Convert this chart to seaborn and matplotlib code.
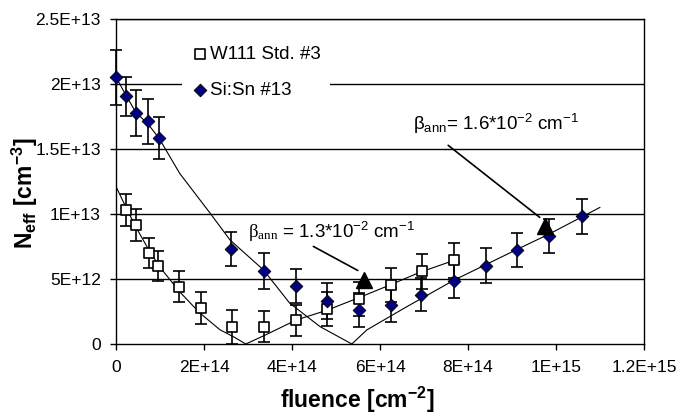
import numpy as np
import pandas as pd
import seaborn as sns
import matplotlib.pyplot as plt

# fluence in 1e15 cm^-2, Neff in 1e12 cm^-3
w111_x = [0.0227, 0.0455, 0.075, 0.096, 0.143, 0.193, 0.264, 0.336, 0.409, 0.48, 0.552, 0.625, 0.695, 0.769]
w111_y = [10.3, 9.15, 7.0, 6.0, 4.4, 2.75, 1.33, 1.33, 1.82, 2.67, 3.43, 4.56, 5.6, 6.45]
w111_err = [1.2, 1.2, 1.15, 1.15, 1.2, 1.25, 1.3, 1.2, 1.2, 1.3, 1.3, 1.3, 1.35, 1.35]

sisn_x = [0.0, 0.0227, 0.045, 0.073, 0.098, 0.261, 0.336, 0.408, 0.48, 0.552, 0.625, 0.694, 0.769, 0.841, 0.912, 0.985, 1.06]
sisn_y = [20.5, 19.05, 17.75, 17.1, 15.85, 7.3, 5.6, 4.44, 3.3, 2.6, 3.0, 3.8, 4.85, 6.0, 7.2, 8.33, 9.8]
sisn_err = [2.1, 1.5, 1.75, 1.7, 1.6, 1.3, 1.4, 1.3, 1.4, 1.3, 1.3, 1.3, 1.35, 1.35, 1.3, 1.3, 1.35]

# fit curves
fit1_x = [0, 0.0227, 0.045, 0.075, 0.10, 0.145, 0.19, 0.236, 0.27, 0.295, 0.34, 0.41, 0.48, 0.555, 0.62, 0.69, 0.77]
fit1_y = [12.1, 10.5, 9.0, 7.2, 5.9, 4.0, 2.4, 1.1, 0.5, 0.0, 0.7, 1.85, 2.6, 3.6, 4.5, 5.5, 6.45]
fit2_x = [0, 0.023, 0.045, 0.073, 0.098, 0.145, 0.214, 0.259, 0.335, 0.395, 0.464, 0.536, 0.57, 0.661, 0.769, 0.912, 0.985, 1.1]
fit2_y = [20.5, 19.1, 17.8, 16.9, 15.8, 13.1, 10.05, 8.0, 5.7, 3.13, 1.33, 0.0, 1.08, 2.87, 4.92, 7.28, 8.46, 10.5]

xticks = [0, 0.2, 0.4, 0.6, 0.8, 1.0, 1.2]
xtick_labels = ['0', '2E+14', '4E+14', '6E+14', '8E+14', '1E+15', '1.2E+15']
yticks = [0, 5, 10, 15, 20, 25]
ytick_labels = ['0', '5E+12', '1E+13', '1.5E+13', '2E+13', '2.5E+13']

sns.set_style('white', {'text.color': 'black', 'axes.labelcolor': 'black',
                        'xtick.color': 'black', 'ytick.color': 'black'})
plt.rcParams['font.family'] = ['Liberation Sans', 'DejaVu Sans']
plt.rcParams['mathtext.fontset'] = 'custom'
plt.rcParams['mathtext.rm'] = 'Liberation Sans'
plt.rcParams['mathtext.it'] = 'Liberation Sans:italic'
plt.rcParams['mathtext.bf'] = 'Liberation Sans:bold'
plt.rcParams['mathtext.sf'] = 'Liberation Serif'

fig = plt.figure(figsize=(6.8, 4.19), dpi=100)
ax = fig.add_axes([116 / 680, 1 - 344 / 419, 528 / 680, (344 - 18.7) / 419])

sns.lineplot(x=fit1_x, y=fit1_y, ax=ax, color='black', lw=0.8, sort=False, zorder=2)
sns.lineplot(x=fit2_x, y=fit2_y, ax=ax, color='black', lw=0.8, sort=False, zorder=2)

for xs, ys, es in [(w111_x, w111_y, w111_err), (sisn_x, sisn_y, sisn_err)]:
    eb = ax.errorbar(xs, ys, yerr=es, fmt='none', ecolor='black', elinewidth=1.2,
                     capsize=4.5, capthick=1.2, zorder=3)
    for art in eb.lines[1] + eb.lines[2]:
        art.set_clip_on(False)

w111 = pd.DataFrame({'x': w111_x, 'y': w111_y})
sisn = pd.DataFrame({'x': sisn_x, 'y': sisn_y})
sns.scatterplot(data=w111, x='x', y='y', ax=ax, marker='s', s=60, facecolor='white',
                edgecolor='black', linewidth=1.2, label='W111 Std. #3', zorder=4, clip_on=False)
sns.scatterplot(data=sisn, x='x', y='y', ax=ax, marker='D', s=42, color='#000080',
                edgecolor='black', linewidth=0.6, label='Si:Sn #13', zorder=4, clip_on=False)

for y in yticks[1:]:
    ax.axhline(y, color='black', lw=1, zorder=1)

ax.set_xlim(0, 1.2)
ax.set_ylim(0, 25)
ax.set_xticks(xticks)
ax.set_xticklabels(xtick_labels)
ax.set_yticks(yticks)
ax.set_yticklabels(ytick_labels)
ax.tick_params(axis='both', labelsize=12.5, length=4, width=1, direction='out', colors='black')
ax.tick_params(axis='x', bottom=True, pad=7.5)
ax.tick_params(axis='y', left=True, pad=7)
for sp in ax.spines.values():
    sp.set_color('black')
    sp.set_linewidth(1)

ax.set_xlabel(r'fluence [cm$^{\mathbf{-2}}$]', fontsize=16.5, fontweight='bold', color='black')
ax.set_ylabel(r'N$_{\mathbf{eff}}$ [cm$^{\mathbf{-3}}$]', fontsize=16.5, fontweight='bold', color='black')
ax.xaxis.set_label_coords((357 - 116) / 528, -(385 - 344) / 325.3)
ax.yaxis.set_label_coords(-(116 - 40) / 528, (344 - 193) / 325.3)

# arrows with triangle heads
ax.annotate('', xy=(0.555, 5.55), xytext=(0.443, 7.6),
            arrowprops=dict(arrowstyle='-', color='black', lw=1.2))
ax.plot([0.564], [4.9], marker='^', ms=12, color='black', zorder=5)
ax.annotate('', xy=(0.968, 9.6), xytext=(0.75, 15.4),
            arrowprops=dict(arrowstyle='-', color='black', lw=1.2))
ax.plot([0.975], [9.1], marker='^', ms=12, color='black', zorder=5)

ax.text(0.30, 8.15, r'$\mathsf{\beta_{ann}}$ = 1.3*10$^{-2}$ cm$^{-1}$', fontsize=13.5,
        va='baseline', color='black')
ax.text(0.675, 16.45, r'$\mathrm{\beta_{ann}}$= 1.6*10$^{-2}$ cm$^{-1}$', fontsize=13.5,
        va='baseline', color='black')

leg = ax.legend(loc='upper left', bbox_to_anchor=(0.125, 0.945), fontsize=13.5, frameon=True,
                facecolor='white', edgecolor='none', framealpha=1, handletextpad=0.1,
                handlelength=0.9, labelspacing=1.0, borderpad=0.5, borderaxespad=0)
for t in leg.get_texts():
    t.set_color('black')
leg.set_zorder(6)

fig.savefig('out.png', dpi=100)
